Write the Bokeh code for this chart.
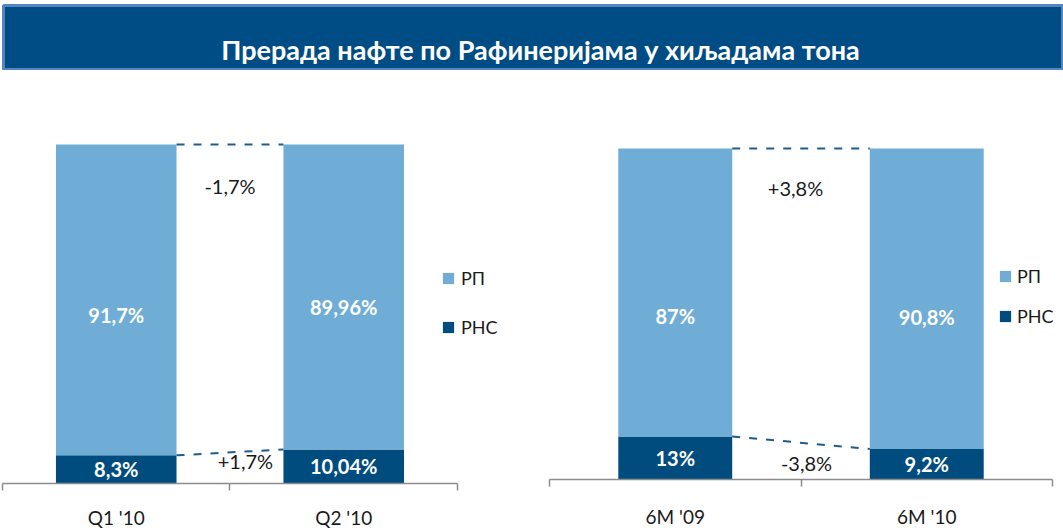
from bokeh.plotting import figure
from bokeh.layouts import column, row
from bokeh.models import ColumnDataSource, Range1d, FixedTicker, Legend, LegendItem, Label
from bokeh.core.properties import value
from bokeh.embed import file_html
from bokeh.resources import INLINE

TITLE = "Прерада нафте по Рафинеријама у хиљадама тона"
SERIES = ["РП", "РНС"]

left_categories = ["Q1 '10", "Q2 '10"]
left_rp = [91.7, 89.96]
left_rns = [8.3, 10.04]
left_change_rp = "-1,7%"
left_change_rns = "+1,7%"

right_categories = ["6M '09", "6M '10"]
right_rp = [87, 90.8]
right_rns = [13, 9.2]
right_change_rp = "+3,8%"
right_change_rns = "-3,8%"

# layout: vertical placement of the РП value labels (in axis units)
left_rp_label_y = [49.6, 52.2]
right_rp_label_y = [49.5, 49.2]

LIGHT = "#70ADD6"
DARK = "#004C7F"
TITLE_BG = "#004C85"
TITLE_BORDER = "#5585C0"
AXIS = "#8C8C8C"
FONT = "Lato"


def fmt(v):
    return f"{v:g}".replace(".", ",") + "%"


def panel(cats, rp, rns, chg_rp, chg_rns, rp_label_y, *, width, height, xr, yr, bw, standoff,
          leg_xy, leg_spacing, leg_standoff, chg_rp_xy, chg_rns_xy):
    p = figure(width=width, height=height, x_range=Range1d(*xr), y_range=Range1d(*yr),
               output_backend="svg", toolbar_location=None, y_axis_location=None,
               min_border_left=0, min_border_right=0, min_border_top=0, min_border_bottom=0)
    p.outline_line_color = None
    p.grid.visible = False
    n = len(cats)
    x = [i + 0.5 for i in range(n)]
    top = [a + b for a, b in zip(rns, rp)]
    src = ColumnDataSource(dict(
        x=x, rns=rns, top=top,
        mid_rns=[v / 2 for v in rns],
        mid_rp=rp_label_y,
        lab_rns=[fmt(v) for v in rns],
        lab_rp=[fmt(v) for v in rp],
    ))
    r_rns = p.vbar(x="x", width=bw, bottom=0, top="rns", source=src,
                   fill_color=DARK, line_color=None)
    r_rp = p.vbar(x="x", width=bw, bottom="rns", top="top", source=src,
                  fill_color=LIGHT, line_color=None)

    seg = ColumnDataSource(dict(
        x0=[x[i] + bw / 2 for i in range(n - 1)] * 2,
        x1=[x[i + 1] - bw / 2 for i in range(n - 1)] * 2,
        y0=[top[i] for i in range(n - 1)] + [rns[i] for i in range(n - 1)],
        y1=[top[i + 1] for i in range(n - 1)] + [rns[i + 1] for i in range(n - 1)],
    ))
    p.segment(x0="x0", y0="y0", x1="x1", y1="y1", source=seg,
              line_color="#1F5C8E", line_width=2, line_dash="8 9")

    for ycol, tcol in (("mid_rns", "lab_rns"), ("mid_rp", "lab_rp")):
        p.text(x="x", y=ycol, text=tcol, source=src, text_color="white",
               text_font=value(FONT), text_font_style="bold", text_font_size="20px",
               text_align="center", text_baseline="middle")

    for txt, (cx, cy) in ((chg_rp, chg_rp_xy), (chg_rns, chg_rns_xy)):
        p.add_layout(Label(x=cx, y=cy, text=txt, text_color="#1A1A1A",
                           text_font=FONT, text_font_size="20px",
                           text_align="center", text_baseline="middle"))

    ax = p.xaxis[0]
    ax.fixed_location = 0
    ax.ticker = FixedTicker(ticks=x, minor_ticks=list(range(n + 1)))
    ax.major_label_overrides = {xi: c for xi, c in zip(x, cats)}
    ax.bounds = (0, n)
    ax.axis_line_color = AXIS
    ax.axis_line_width = 1.5
    ax.minor_tick_line_color = AXIS
    ax.minor_tick_line_width = 1.5
    ax.minor_tick_out = 7
    ax.minor_tick_in = 0
    ax.major_tick_line_color = None
    ax.major_tick_out = 0
    ax.major_tick_in = 0
    ax.major_label_text_font = FONT
    ax.major_label_text_font_size = "19px"
    ax.major_label_text_color = "#1A1A1A"
    ax.major_label_standoff = standoff

    legend = Legend(items=[LegendItem(label=SERIES[0], renderers=[r_rp]),
                           LegendItem(label=SERIES[1], renderers=[r_rns])],
                    location=leg_xy, orientation="vertical",
                    glyph_width=14, glyph_height=14, label_height=20,
                    spacing=leg_spacing, padding=0, margin=0,
                    border_line_color=None, background_fill_alpha=0,
                    label_text_font=FONT, label_text_font_size="18px",
                    label_text_color="#1A1A1A", label_standoff=leg_standoff)
    p.add_layout(legend)
    return p


# title bar
t = figure(width=1063, height=70, x_range=Range1d(0, 1), y_range=Range1d(0, 1),
           output_backend="svg", toolbar_location=None,
           x_axis_location=None, y_axis_location=None,
           min_border_left=3, min_border_right=0, min_border_top=5, min_border_bottom=0)
t.grid.visible = False
t.background_fill_color = TITLE_BG
t.outline_line_color = TITLE_BORDER
t.outline_line_width = 3
t.add_layout(Label(x=537, y=21, x_units="screen", y_units="screen", text=TITLE,
                   text_color="white", text_font=FONT, text_font_style="bold",
                   text_font_size="27px", text_align="center", text_baseline="middle"))

left = panel(left_categories, left_rp, left_rns, left_change_rp, left_change_rns, left_rp_label_y,
             width=540, height=461, xr=(-0.0088, 2.365), yr=(-14.16, 121.83), bw=0.53,
             standoff=16,
             leg_xy=(441, 193), leg_spacing=27, leg_standoff=6,
             chg_rp_xy=(1.0, 87.8), chg_rns_xy=(1.068, 6.5))
right = panel(right_categories, right_rp, right_rns, right_change_rp, right_change_rns, right_rp_label_y,
              width=523, height=461, xr=(-0.0358, 2.0437), yr=(-15.71, 123.56), bw=0.453,
              standoff=19,
              leg_xy=(458, 204), leg_spacing=18, leg_standoff=5,
              chg_rp_xy=(0.978, 88.2), chg_rns_xy=(1.022, 5.0))

layout = column(t, row(left, right, spacing=0), spacing=0)
open("out.html", "w").write(file_html(layout, INLINE))
